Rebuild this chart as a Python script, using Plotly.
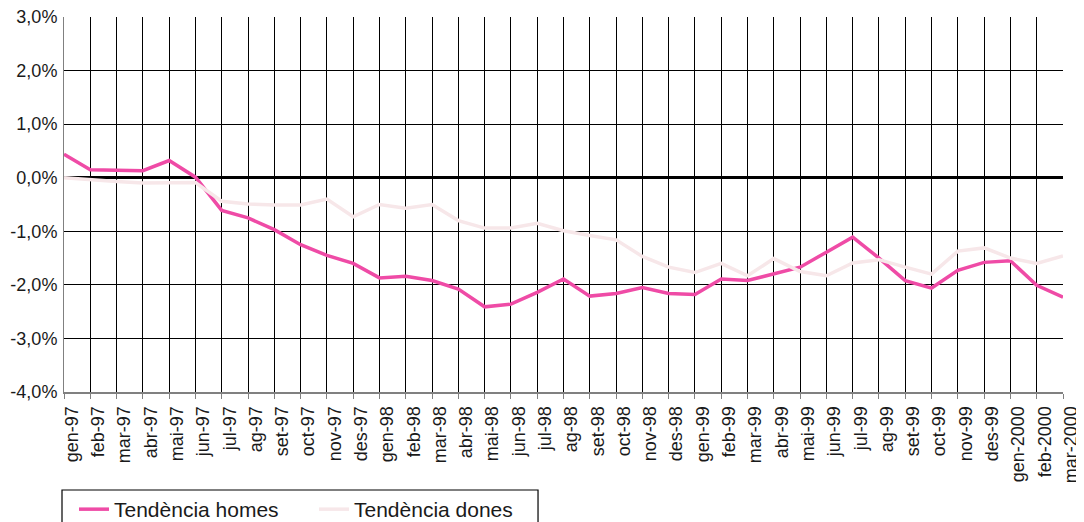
import plotly.graph_objects as go

months = ["gen-97", "feb-97", "mar-97", "abr-97", "mai-97", "jun-97", "jul-97", "ag-97", "set-97", "oct-97",
          "nov-97", "des-97", "gen-98", "feb-98", "mar-98", "abr-98", "mai-98", "jun-98", "jul-98", "ag-98",
          "set-98", "oct-98", "nov-98", "des-98", "gen-99", "feb-99", "mar-99", "abr-99", "mai-99", "jun-99",
          "jul-99", "ag-99", "set-99", "oct-99", "nov-99", "des-99", "gen-2000", "feb-2000", "mar-2000"]

homes = [0.44, 0.15, 0.14, 0.13, 0.32, 0.01, -0.61, -0.75, -0.97, -1.25,
         -1.45, -1.60, -1.87, -1.84, -1.92, -2.08, -2.41, -2.36, -2.14, -1.89,
         -2.21, -2.16, -2.05, -2.16, -2.18, -1.89, -1.92, -1.80, -1.67, -1.39,
         -1.11, -1.50, -1.92, -2.06, -1.73, -1.58, -1.55, -2.01, -2.23]

dones = [0.00, -0.04, -0.07, -0.10, -0.09, -0.09, -0.44, -0.49, -0.51, -0.51,
         -0.40, -0.73, -0.50, -0.57, -0.50, -0.80, -0.94, -0.94, -0.85, -0.99,
         -1.08, -1.16, -1.47, -1.67, -1.77, -1.60, -1.83, -1.51, -1.75, -1.83,
         -1.59, -1.53, -1.67, -1.80, -1.37, -1.31, -1.50, -1.60, -1.46]

y_tickvals = [-4, -3, -2, -1, 0, 1, 2, 3]
y_ticktext = ["-4,0%", "-3,0%", "-2,0%", "-1,0%", "0,0%", "1,0%", "2,0%", "3,0%"]

FONT = "Liberation Sans, Arial, sans-serif"

fig = go.Figure()
fig.add_trace(go.Scatter(x=months, y=homes, mode="lines", name="Tendència homes",
                         line=dict(color="#EF4BA6", width=3.5)))
fig.add_trace(go.Scatter(x=months, y=dones, mode="lines", name="Tendència dones",
                         line=dict(color="#F7E7E9", width=3.5)))

# legend frame (runs past the bottom edge, as in the reference)
fig.add_shape(type="rect", xref="paper", yref="paper",
              x0=-0.002, x1=0.4745, y0=-0.2613, y1=-0.6,
              line=dict(color="black", width=1.2), fillcolor="rgba(0,0,0,0)", layer="above")

fig.update_layout(
    width=1076, height=514,
    margin=dict(l=56, r=21, t=9, b=130, autoexpand=False),
    paper_bgcolor="white", plot_bgcolor="white",
    font=dict(family=FONT, color="#1a1a1a", size=18),
    showlegend=True,
    legend=dict(orientation="h", x=0.010, xanchor="left", y=-0.2587, yanchor="top",
                borderwidth=0, font=dict(size=21, family=FONT, color="#1a1a1a"),
                entrywidth=195, itemwidth=30, bgcolor="rgba(0,0,0,0)"),
    xaxis=dict(type="category", categoryorder="array", categoryarray=months,
               range=[0, len(months) - 1], tickangle=-90, automargin=False,
               showgrid=True, gridcolor="black", gridwidth=1,
               showline=True, linecolor="#808080", linewidth=2,
               ticks="outside", ticklen=5, tickcolor="#808080",
               ticklabelshift=8, ticklabeloverflow="allow",
               tickfont=dict(size=18, family=FONT, color="#1a1a1a")),
    yaxis=dict(range=[-4, 3], tickvals=y_tickvals, ticktext=y_ticktext, automargin=False,
               showgrid=True, gridcolor="black", gridwidth=1,
               zeroline=True, zerolinecolor="black", zerolinewidth=2.5,
               showline=True, linecolor="#808080", linewidth=1,
               ticks="", ticklabelstandoff=2, ticklabeloverflow="allow",
               tickfont=dict(size=18, family=FONT, color="#1a1a1a")),
)

fig.write_html("out.html")
